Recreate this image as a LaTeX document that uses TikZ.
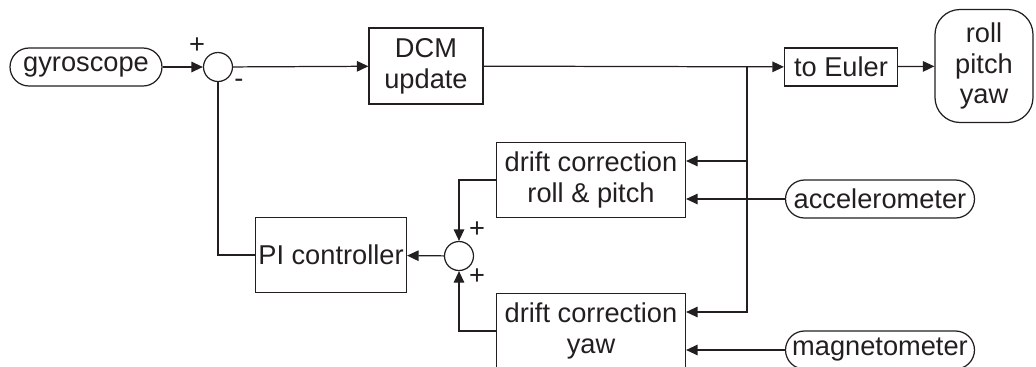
\documentclass[tikz,border=0pt]{standalone}
\usepackage{fontspec}
\setmainfont{Liberation Sans}
\usetikzlibrary{arrows.meta}
\definecolor{ink}{RGB}{35,31,32}
\tikzset{
  block/.style={draw,line width=0.7pt,inner sep=0pt,align=center},
  pill/.style={draw,line width=0.7pt,inner sep=0pt,minimum height=0.76cm,rounded corners=0.38cm},
  sumnode/.style={draw,circle,line width=0.7pt,inner sep=0pt,minimum size=0.58cm},
  sig/.style={line width=0.7pt,-{Triangle[length=0.23cm,width=0.21cm]}},
  wire/.style={line width=0.7pt},
  sign/.style={inner sep=0pt}
}
\begin{document}
\begin{tikzpicture}[x=0.02cm,y=-0.02cm,color=ink,every node/.style={font=\fontsize{15.5}{17.5}\selectfont}]
\useasboundingbox (0,0) rectangle (1036,366);
% forward path
\node[pill,minimum width=3.04cm] (gyro) at (86,67) {gyroscope};
\node[sumnode] (sum1) at (218,67) {};
\node[sign] (p1) at (197,46) {+};
\node[sign] (m1) at (239,83) {-};
\node[block,minimum width=2.28cm,minimum height=1.52cm] (dcm) at (426,66) {DCM\\update};
\node[block,minimum width=2.26cm,minimum height=0.76cm] (euler) at (841,67) {to Euler};
\node[block,minimum width=1.96cm,minimum height=2.26cm,rounded corners=0.5cm] (rpy) at (984,66) {roll\\pitch\\yaw};
% correction path
\node[block,minimum width=3.78cm,minimum height=1.5cm] (roll) at (591,180) {drift correction\\roll \& pitch};
\node[block,minimum width=3.78cm,minimum height=1.5cm] (yaw) at (591,331) {drift correction\\yaw};
\node[pill,minimum width=3.78cm] (acc) at (880,199) {accelerometer};
\node[pill,minimum width=3.78cm] (mag) at (880,350) {magnetometer};
\node[sumnode] (sum2) at (459,256) {};
\node[sign] (p2) at (477,230) {+};
\node[sign] (p3) at (477,277) {+};
\node[block,minimum width=3.02cm,minimum height=1.5cm] (pi) at (331,255) {PI controller};
\coordinate (br) at (747,67);
\coordinate (rollin) at ([yshift=0.38cm]roll.east);
\coordinate (yawin) at ([yshift=0.38cm]yaw.east);
% connectors
\draw[sig] (gyro) -- (sum1);
\draw[sig] (sum1) -- (dcm);
\draw[sig] (dcm) -- (euler);
\draw[sig] (euler) -- (rpy);
\draw[sig] (br) |- (yawin);
\draw[sig] (br |- rollin) -- (rollin);
\draw[sig] (acc) -- (acc.west -| roll.east);
\draw[sig] (mag) -- (mag.west -| yaw.east);
\draw[sig] (roll.west) -| (sum2.north);
\draw[sig] (yaw.west) -| (sum2.south);
\draw[sig] (sum2) -- (pi);
\draw[wire] (pi.west) -| (sum1.south);
\end{tikzpicture}
\end{document}
